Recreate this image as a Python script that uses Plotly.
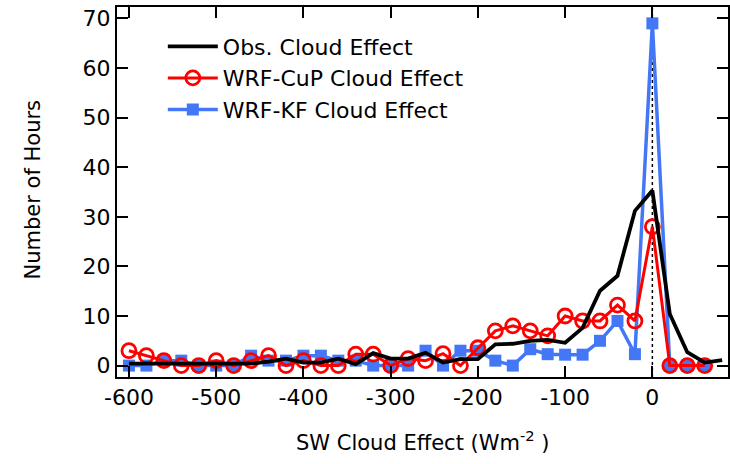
import plotly.graph_objects as go

# Bin centres (W m^-2)
x_bins = [-600, -580, -560, -540, -520, -500, -480, -460, -440, -420,
          -400, -380, -360, -340, -320, -300, -280, -260, -240, -220,
          -200, -180, -160, -140, -120, -100, -80, -60, -40, -20,
          0, 20, 40, 60]
x_obs = x_bins + [80]

obs = [0.4, 0.4, 0.4, 0.4, 0.4, 0.4, 0.4, 0.4, 0.8, 1.4,
       0.6, 0.6, 1.4, 0.3, 2.5, 1.4, 1.4, 2.6, 0.6, 1.3,
       1.3, 4.3, 4.4, 5.0, 5.2, 4.6, 7.6, 15.1, 18.1, 31.2,
       35.3, 10.4, 2.7, 0.6, 1.1]

cup = [3, 2, 1, 0, 0, 1, 0, 1, 2, 0,
       1, 0, 0, 2.3, 2.3, 0, 1.4, 1, 2.4, 0,
       3.6, 7, 8, 7, 6, 10, 9, 9, 12.2, 9,
       28, 0, 0, 0]

kf = [0, 0, 1, 1, 0, 0, 0, 2, 1, 1,
      2, 2, 1, 1, 0, 0, 0, 3, 0, 3,
      3, 1, 0, 3.3, 2.3, 2.2, 2.2, 5, 9, 2.3,
      69, 0, 0, 0]

x_ticks = [-600, -500, -400, -300, -200, -100, 0]
y_ticks = [0, 10, 20, 30, 40, 50, 60, 70]

FONT = "DejaVu Sans"
BLUE = "#4477F5"

fig = go.Figure()
fig.add_trace(go.Scatter(
    x=x_bins, y=kf, name="WRF-KF Cloud Effect", mode="lines+markers",
    line=dict(color=BLUE, width=3.5),
    marker=dict(symbol="square", size=12, color=BLUE),
    legendrank=3))
fig.add_trace(go.Scatter(
    x=x_bins, y=cup, name="WRF-CuP Cloud Effect", mode="lines+markers",
    line=dict(color="#FF0000", width=3),
    marker=dict(symbol="circle-open", size=14, color="#FF0000",
                line=dict(width=2.8, color="#FF0000")),
    legendrank=2))
fig.add_trace(go.Scatter(
    x=x_obs, y=obs, name="Obs. Cloud Effect", mode="lines",
    line=dict(color="black", width=3.8),
    legendrank=1))

fig.add_shape(type="line", xref="x", yref="paper", x0=0, x1=0, y0=0, y1=1,
              line=dict(color="black", width=1.5, dash="dot"), layer="below")

axis_common = dict(showline=True, linecolor="black", linewidth=2,
                   mirror="ticks", ticks="inside", ticklen=11, tickwidth=2,
                   tickcolor="black", showgrid=False, zeroline=False,
                   tickfont=dict(family=FONT, size=22, color="black"))

fig.update_xaxes(range=[-613.7, 86.7], tickvals=x_ticks,
                 ticktext=[str(v) for v in x_ticks], **axis_common)
fig.update_yaxes(range=[-2.3, 72.3], tickvals=y_ticks,
                 ticktext=[str(v) for v in y_ticks], **axis_common)

fig.add_annotation(text="Number of Hours", xref="paper", yref="paper",
                   x=-0.137, y=0.505, textangle=-90, showarrow=False,
                   xanchor="center", yanchor="middle",
                   font=dict(family=FONT, size=21, color="black"))
fig.add_annotation(text="SW Cloud Effect (Wm<sup>-2</sup> )", xref="paper",
                   yref="paper", x=0.5, y=-0.173, showarrow=False,
                   xanchor="center", yanchor="middle",
                   font=dict(family=FONT, size=21, color="black"))

fig.update_layout(
    width=730, height=464,
    margin=dict(l=117, r=0, t=7, b=87),
    paper_bgcolor="white", plot_bgcolor="white",
    font=dict(family=FONT, color="black"),
    showlegend=True,
    legend=dict(x=0.075, y=0.95, xanchor="left", yanchor="top",
                bgcolor="rgba(0,0,0,0)", borderwidth=0,
                font=dict(family=FONT, size=22, color="black"),
                tracegroupgap=0, itemwidth=50),
)

fig.write_html("out.html")
